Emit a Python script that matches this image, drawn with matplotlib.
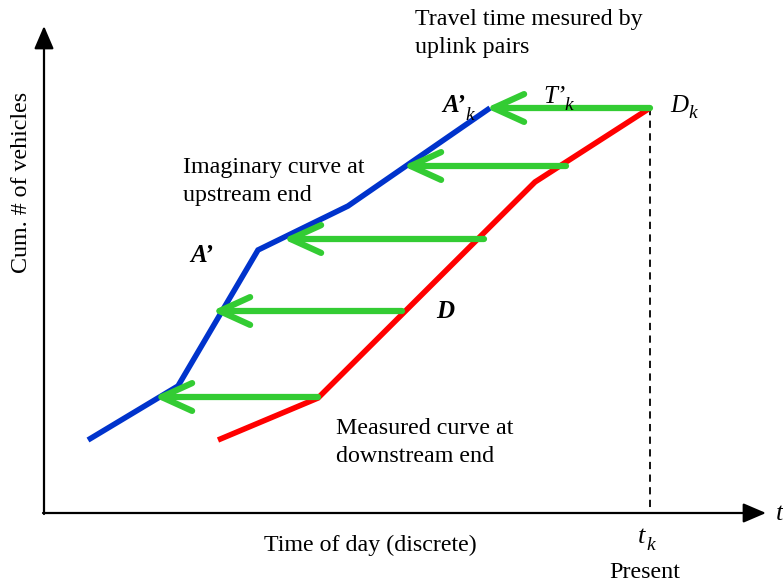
import matplotlib
matplotlib.use("Agg")
import matplotlib.pyplot as plt

# Data (diagram coordinates, y grows downward)
blue_x = [88, 178, 258, 348, 490]
blue_y = [440, 386, 250, 206, 108]
red_x = [218, 318, 535, 650]
red_y = [440, 398, 182, 108]
arrow_y = [108, 166, 239, 311, 397]
arrow_start = [650, 566, 484, 402, 318]
arrow_end = [490, 407, 287, 216, 158]
t_k = 650
D_k_y = 108

plt.rcParams['font.family'] = ['Liberation Serif', 'DejaVu Serif']
fig = plt.figure(figsize=(7.83, 5.85), dpi=100)
ax = fig.add_axes([0, 0, 1, 1])
ax.set_xlim(0, 783)
ax.set_ylim(585, 0)
ax.axis('off')

# axes arrows
ax.annotate('', xy=(44, 26), xytext=(44, 514),
            arrowprops=dict(arrowstyle='-|>,head_length=14,head_width=6', mutation_scale=1,
                            color='black', lw=1.6, shrinkA=0, shrinkB=0))
ax.annotate('', xy=(766, 513), xytext=(43, 513),
            arrowprops=dict(arrowstyle='-|>,head_length=14,head_width=6', mutation_scale=1,
                            color='black', lw=1.6, shrinkA=0, shrinkB=0))

# dashed present line
ax.plot([t_k, t_k], [D_k_y, 513], ls=(0, (4, 3)), color='black', lw=1.3)

ax.plot(blue_x, blue_y, color='#0033cc', lw=4.0, solid_capstyle='butt', solid_joinstyle='miter')
ax.plot(red_x, red_y, color='#ff0000', lw=4.0, solid_capstyle='butt', solid_joinstyle='miter')

for y, xs, xe in zip(arrow_y, arrow_start, arrow_end):
    ax.annotate('', xy=(xe - 4, y), xytext=(xs, y),
                arrowprops=dict(arrowstyle='->,head_length=22,head_width=10', mutation_scale=1,
                                color='#33cc33', lw=4.5, shrinkA=0, shrinkB=0,
                                capstyle='round', joinstyle='round'))

fs = 17.3
ax.text(415, 20, 'Travel time mesured by', fontsize=fs, va='center', ha='left')
ax.text(415, 48, 'uplink pairs', fontsize=fs, va='center', ha='left')
ax.text(183, 167, 'Imaginary curve at', fontsize=fs, va='center', ha='left')
ax.text(183, 196, 'upstream end', fontsize=fs, va='center', ha='left')
ax.text(336, 429, 'Measured curve at', fontsize=fs, va='center', ha='left')
ax.text(336, 457, 'downstream end', fontsize=fs, va='center', ha='left')
ax.text(370, 545, 'Time of day (discrete)', fontsize=fs, va='center', ha='center')
ax.text(645, 573, 'Present', fontsize=fs, va='center', ha='center')
ax.text(22, 182, 'Cum. # of vehicles', fontsize=fs, va='center', ha='center', rotation=90)

# math-like labels
ax.text(442, 105, 'A’', fontsize=18, style='italic', weight='bold', va='center', ha='left')
ax.text(465, 115, 'k', fontsize=14, style='italic', va='center', ha='left')
ax.text(543, 97, 'T’', fontsize=18, style='italic', va='center', ha='left')
ax.text(564, 105, 'k', fontsize=14, style='italic', va='center', ha='left')
ax.text(670, 106, 'D', fontsize=18, style='italic', va='center', ha='left')
ax.text(688, 114, 'k', fontsize=14, style='italic', va='center', ha='left')
ax.text(190, 255, 'A’', fontsize=18, style='italic', weight='bold', va='center', ha='left')
ax.text(436, 312, 'D', fontsize=18, style='italic', weight='bold', va='center', ha='left')
ax.text(638, 537, 't', fontsize=19, style='italic', va='center', ha='left')
ax.text(646, 545, 'k', fontsize=14, style='italic', va='center', ha='left')
ax.text(776, 514, 't', fontsize=19, style='italic', va='center', ha='left')

fig.savefig('out.png', dpi=100)
